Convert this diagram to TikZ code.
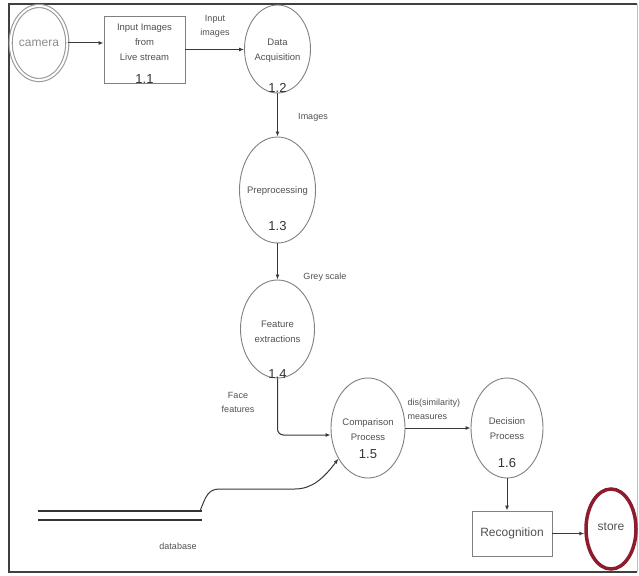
\documentclass[tikz,border=0pt]{standalone}
\usepackage{fontspec}
\setmainfont{Liberation Sans}
\usetikzlibrary{arrows.meta,shapes.geometric}

\definecolor{dfdline}{HTML}{808080}
\definecolor{dfdtextgray}{HTML}{505050}
\definecolor{dfdflowgray}{HTML}{383838}
\definecolor{dfdred}{HTML}{8C1C2E}

\newcommand\dfdtextstyle{\fontsize{9.5}{15}\selectfont}
\newcommand\dfdlabelstyle{\fontsize{9}{14}\selectfont}
\newcommand\dfdnumstyle{\fontsize{13}{13}\selectfont}
\newcommand\dfdbigstyle{\fontsize{12}{12}\selectfont}

\tikzset{
  proc/.style={ellipse, draw=dfdline, line width=0.9pt, inner sep=0pt},
  procbox/.style={rectangle, draw=dfdline, line width=0.9pt, inner sep=0pt},
  proctext/.style={align=center, text=dfdtextgray, font=\dfdtextstyle},
  procnum/.style={text=black!80, font=\dfdnumstyle, inner sep=0pt},
  flowlabel/.style={align=center, text=dfdtextgray, font=\dfdlabelstyle},
  flow/.style={draw=dfdflowgray, line width=1pt, -{Latex[length=5pt,width=4pt]}}
}

\begin{document}
\begin{tikzpicture}[x=1pt, y=-1pt]
  \useasboundingbox (0,0) rectangle (639,575);
  % frame
  \draw[black!75, line width=2.5pt] (637,4) -- (9,4) -- (9,572) -- (637,572);
  \draw[black!25, line width=1pt] (637,4) -- (637,572);

  % external entities
  \node[ellipse, draw=black!40, line width=1.1pt, double=white, double distance=2pt,
        minimum width=52pt, minimum height=74pt, inner sep=0pt,
        text=black!45, font=\dfdbigstyle] (camera) at (39,43) {camera};
  \node[ellipse, draw=dfdred, line width=3.5pt, minimum width=50pt, minimum height=80pt,
        inner sep=0pt] (store) at (611,529) {};
  \node[text=dfdtextgray, font=\dfdbigstyle] (storetext) at (611,527) {store};

  % processes
  \node[procbox, minimum width=81pt, minimum height=67pt] (inimg) at (144.5,49.5) {};
  \node[proctext] (inimgtext) at (144.5,42) {Input Images\\from\\Live stream};
  \node[procnum] (inimgnum) at (144.5,79) {1.1};

  \node[proc, minimum width=66pt, minimum height=88pt] (acq) at (277.5,49) {};
  \node[proctext] (acqtext) at (277.5,51) {Data\\Acquisition};
  \node[procnum] (acqnum) at (277.5,88) {1.2};

  \node[proc, minimum width=76pt, minimum height=106pt] (prep) at (277.5,190) {};
  \node[proctext] (preptext) at (277.5,191) {Preprocessing};
  \node[procnum] (prepnum) at (277.5,226) {1.3};

  \node[proc, minimum width=74pt, minimum height=98pt] (feat) at (277.5,329) {};
  \node[proctext] (feattext) at (277.5,332) {Feature\\extractions};
  \node[procnum] (featnum) at (277.5,374) {1.4};

  \node[proc, minimum width=74pt, minimum height=100pt] (comp) at (368,428) {};
  \node[proctext] (comptext) at (368,430) {Comparison\\Process};
  \node[procnum] (compnum) at (368,454) {1.5};

  \node[proc, minimum width=72pt, minimum height=100pt] (dec) at (507,428) {};
  \node[proctext] (dectext) at (507,429) {Decision\\Process};
  \node[procnum] (decnum) at (507,463) {1.6};

  \node[procbox, minimum width=80pt, minimum height=45pt, text=dfdtextgray,
        font=\dfdbigstyle] (recog) at (512,533.5) {Recognition};

  % data store
  \draw[black!80, line width=2pt] (38,511) -- (202,511);
  \draw[black!80, line width=2.5pt] (38,520) -- (202,520);
  \coordinate (dbend) at (200,511);
  \node[flowlabel] (dblabel) at (178,546) {database};

  % flows
  \draw[flow] (camera.east) -- (camera.east -| inimg.west);
  \draw[flow] (inimg.east) -- (inimg.east -| acq.west);
  \draw[flow] (acq.south) -- (prep.north);
  \draw[flow] (prep.south) -- (feat.north);
  \draw[flow, rounded corners=6pt] (feat.south) |- ([yshift=-7pt]comp.west);
  \draw[flow] (comp.east) -- (dec.west);
  \draw[flow] (dec.south) -- (dec.south |- recog.north);
  \draw[flow] (recog.east) -- (recog.east -| store.west);
  \draw[flow] (dbend) .. controls (206,496) and (208,489) .. (220,489)
    -- (295,489) .. controls (312,489) and (324,478) .. (comp.226);

  % flow labels
  \node[flowlabel] (lblinput) at (215,26) {Input\\images};
  \node[flowlabel] (lblimages) at (313,117) {Images};
  \node[flowlabel] (lblgrey) at (325,277) {Grey scale};
  \node[flowlabel] (lblface) at (238,402) {Face\\features};
  \node[flowlabel, anchor=west, align=left] (lblsim) at (404,409) {dis(similarity)\\measures};
\end{tikzpicture}
\end{document}
